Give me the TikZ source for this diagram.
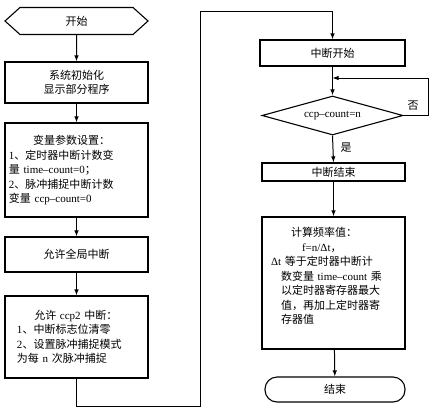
\documentclass[tikz,border=0pt]{standalone}
\usepackage{fontspec}
\setmainfont{Noto Sans CJK SC}
\newfontfamily\lat{Liberation Serif}
\usepackage{tikz}
\usetikzlibrary{arrows.meta,shapes.geometric,shapes.symbols}
\newcommand{\ltx}[1]{{\lat #1}}
\tikzset{
  fcbox/.style={
    draw=black, line width=1.1pt, align=center, inner sep=2pt,
    font=\fontsize{11}{14.5}\selectfont
  },
  proc/.style={fcbox, minimum width=143pt},
  txtbox/.style={proc, align=left, text width=135pt},
  term/.style={fcbox, rounded corners=12pt, minimum width=140pt, minimum height=25pt},
  startsh/.style={
    fcbox, signal, signal to=west and east, signal pointer angle=84,
    minimum width=143pt, minimum height=27pt
  },
  cond/.style={fcbox, diamond, aspect=3.6, inner sep=0pt, minimum width=141pt, minimum height=39pt},
  arr/.style={-{Latex[length=6pt,width=4.5pt]}, draw=black, line width=1pt},
  ln/.style={draw=black, line width=1pt},
  lbl/.style={font=\fontsize{11}{13}\selectfont, inner sep=1pt}
}
\begin{document}
\begin{tikzpicture}[x=1pt,y=-1pt]
  \useasboundingbox (0,0) rectangle (435,412);
  \node[startsh] (start) at (76.5,21) {开始};
  \node[proc, minimum height=41pt] (init) at (76.5,82.5) {系统初始化\\显示部分程序};
  \node[txtbox, minimum height=94pt] (vars) at (76.5,170)
    {\hspace*{2.2em}变量参数设置：\\ \ltx{1}、定时器中断计数变\\ 量 \ltx{time–count=0}；\\ \ltx{2}、脉冲捕捉中断计数\\ 变量 \ltx{ccp–count=0}};
  \node[proc, minimum height=35pt] (glob) at (76.5,254.5) {允许全局中断};
  \node[txtbox, minimum height=82pt] (ccp) at (76.5,337)
    {\hspace*{2.3em}允许 \ltx{ccp2} 中断：\\ \hspace*{8pt}\ltx{1}、中断标志位清零\\ \hspace*{8pt}\ltx{2}、设置脉冲捕捉模式\\ \hspace*{8pt}为每 \ltx{n} 次脉冲捕捉};
  \node[proc, minimum width=145pt, minimum height=26pt] (isr) at (332.5,53) {中断开始};
  \node[cond] (chk) at (332.5,115.5) {\ltx{ccp–count=n}};
  \node[proc, minimum height=18pt, inner sep=0pt] (iend) at (333.5,172) {中断结束};
  \node[txtbox, minimum height=132pt] (calc) at (333.5,283)
    {\hspace*{25pt}计算频率值：\\ \hspace*{36pt}\ltx{f=n/Δt}，\\ \hspace*{5pt}\ltx{Δt} 等于定时器中断计\\ \hspace*{15pt}数变量 \ltx{time–count} 乘\\ \hspace*{15pt}以定时器寄存器最大\\ \hspace*{15pt}值，再加上定时器寄\\ \hspace*{15pt}存器值\\ \mbox{}};
  \node[term] (stop) at (335,389.5) {结束};
  \node[lbl] (no) at (413,106) {否};
  \node[lbl] (yes) at (346,148) {是};
  \coordinate (c1) at (200,406);
  \coordinate (c2) at (200,12);
  \coordinate (lp) at (428,78);
  \draw[arr] (start) -- (init);
  \draw[arr] (init) -- (vars);
  \draw[arr] (vars) -- (glob);
  \draw[arr] (glob) -- (ccp);
  \draw[arr] (ccp.south) |- (c1) -- (c2) -| (isr.north);
  \draw[arr] (isr) -- (chk);
  \draw[arr] (chk.east) -| (lp) -- (lp -| chk.north);
  \draw[arr] (chk.south) -- (iend.north);
  \draw[arr] (iend) -- (calc);
  \draw[arr] (calc) -- (stop);
\end{tikzpicture}
\end{document}
